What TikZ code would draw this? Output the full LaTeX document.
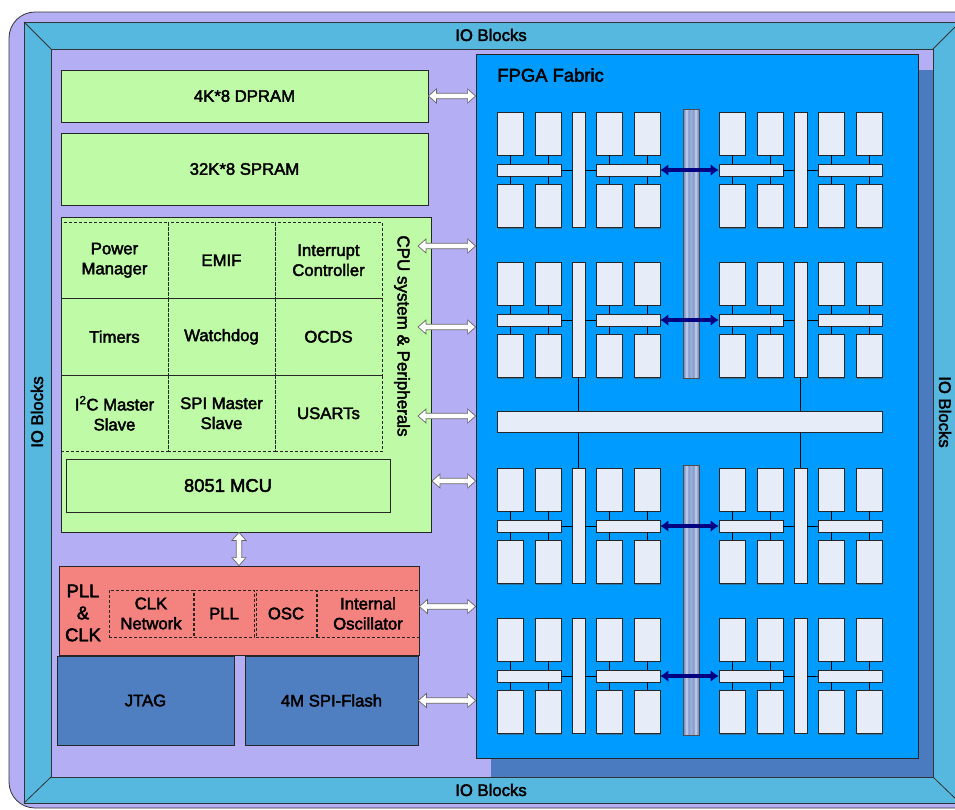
\documentclass[tikz,border=0pt]{standalone}
\usepackage{fontspec}
\setmainfont{Liberation Sans}[FakeBold=2.5]
\usetikzlibrary{positioning,calc,arrows.meta,shadows}
\definecolor{lila}{HTML}{B4AEF4}
\definecolor{ioazul}{HTML}{56B8DF}
\definecolor{verde}{HTML}{BFFBA6}
\definecolor{salmon}{HTML}{F4827E}
\definecolor{acero}{HTML}{4F7FC0}
\definecolor{fabric}{HTML}{009BFF}
\definecolor{sombra}{HTML}{4A7AC0}
\definecolor{celeste}{HTML}{E6EDF8}
\definecolor{marino}{HTML}{000080}
\definecolor{grisA}{HTML}{8299CC}
\definecolor{grisB}{HTML}{C8D4EC}
\pgfdeclarehorizontalshading{barra}{100bp}{color(0bp)=(grisA); color(25bp)=(grisA!85!black); color(29bp)=(grisA); color(36bp)=(grisB); color(42bp)=(grisA); color(50bp)=(grisA!60!grisB); color(58bp)=(grisA); color(64bp)=(grisB); color(71bp)=(grisA); color(75bp)=(grisA!85!black); color(100bp)=(grisA)}

% un grupo de bloques logicos: nombre, x, y
\newcommand{\grupoFPGA}[3]{%
  \begin{scope}[shift={(#2,#3)}]
    \foreach \i/\x in {1/13, 2/51, 3/112, 4/150}{
      \node[tile] (#1t\i) at (\x, 21.5) {};
      \node[tile] (#1b\i) at (\x, 94) {};
    }
    \node[hbarra] (#1hl) at (32, 58) {};
    \node[hbarra] (#1hr) at (131, 58) {};
    \node[vbarra] (#1v) at (81.5, 57.5) {};
    \foreach \i in {1,2}{
      \draw (#1t\i.south) -- (#1t\i.south |- #1hl.north);
      \draw (#1b\i.north) -- (#1b\i.north |- #1hl.south);
    }
    \foreach \i in {3,4}{
      \draw (#1t\i.south) -- (#1t\i.south |- #1hr.north);
      \draw (#1b\i.north) -- (#1b\i.north |- #1hr.south);
    }
    \draw (#1hl.east) -- (#1v.west |- #1hl.east);
    \draw (#1v.east |- #1hr.west) -- (#1hr.west);
  \end{scope}}

\begin{document}
\begin{tikzpicture}[x=1pt, y=-1pt, line width=0.8pt,
            font=\fontsize{16.7}{20}\selectfont,
            caja/.style ={draw=black!85, fill=verde, inner sep=0pt, align=center},
            celda/.style ={draw=black!85, dash pattern=on 3pt off 2pt, inner sep=0pt,
            minimum width=107pt, minimum height=76.5pt, align=center},
            reloj/.style ={celda, minimum height=47pt},
            azul/.style ={draw=black!85, fill=acero, inner sep=0pt},
            grande/.style ={font=\fontsize{18.4}{22}\selectfont},
            tile/.style ={draw=black!85, fill=celeste, line width=0.7pt, inner sep=0pt,
            minimum width=26pt, minimum height=43pt,
            drop shadow={shadow xshift=1pt, shadow yshift=-1pt, fill=black!70, opacity=0.5}},
            hbarra/.style ={tile, minimum width=64pt, minimum height=12pt},
            vbarra/.style ={tile, minimum width=13pt, minimum height=115pt},
            flecha/.style ={fill=white, draw=black!60, line width=0.7pt, to path={
              -- ($(\tikztostart)!8pt!(\tikztotarget)!7pt!90:(\tikztotarget)$)
              -- ($(\tikztostart)!8pt!(\tikztotarget)!2.8pt!90:(\tikztotarget)$)
              -- ($(\tikztotarget)!8pt!(\tikztostart)!2.8pt!-90:(\tikztostart)$)
              -- ($(\tikztotarget)!8pt!(\tikztostart)!7pt!-90:(\tikztostart)$)
              -- (\tikztotarget)
              -- ($(\tikztotarget)!8pt!(\tikztostart)!7pt!90:(\tikztostart)$)
              -- ($(\tikztotarget)!8pt!(\tikztostart)!2.8pt!90:(\tikztostart)$)
              -- ($(\tikztostart)!8pt!(\tikztotarget)!2.8pt!-90:(\tikztotarget)$)
              -- ($(\tikztostart)!8pt!(\tikztotarget)!7pt!-90:(\tikztotarget)$)
              -- cycle}}]

        \useasboundingbox (0,0) rectangle (955,809);

        %%--------------------------marco y bloques IO--------------------------
        \filldraw[fill=lila, draw=black!80, rounded corners=26pt] (9,12) rectangle (990,808);
        \filldraw[fill=ioazul, draw=black!80] (24,22) rectangle (960,803);
        \filldraw[fill=lila, draw=black!80] (51,49) rectangle (933,777);
        \draw[black!80] (24,22) -- (51,49) (960,22) -- (933,49)
              (24,803) -- (51,777) (960,803) -- (933,777);

        \node (IOt) at (491,35) {IO Blocks};
        \node (IOb) at (491,790) {IO Blocks};
        \node[rotate=90] (IOl) at (37,412) {IO Blocks};
        \node[rotate=-90] (IOr) at (945,412) {IO Blocks};

        %%--------------------------FPGA fabric--------------------------
        \fill[sombra] (491,70) rectangle (933,777);
        \node[draw=black!85, fill=fabric, inner sep=0pt, minimum width=442pt, minimum height=704pt] (F) at (697,406) {};
        \node[grande, inner sep=0pt, anchor=west] (FT) at (497,75) {FPGA Fabric};

        \node[draw=black!70, shading=barra, inner sep=0pt, minimum width=16pt, minimum height=269pt] (GB1) at (691,243.5) {};
        \node[draw=black!70, shading=barra, inner sep=0pt, minimum width=16pt, minimum height=270pt] (GB2) at (691,600) {};

        \grupoFPGA{G1}{497}{112}
        \grupoFPGA{G2}{719}{112}
        \grupoFPGA{G3}{497}{262}
        \grupoFPGA{G4}{719}{262}
        \grupoFPGA{G5}{497}{468}
        \grupoFPGA{G6}{719}{468}
        \grupoFPGA{G7}{497}{618}
        \grupoFPGA{G8}{719}{618}

        \node[tile, minimum width=385pt, minimum height=21pt] (WB) at (689.5,421.5) {};
        \draw (G3v.south) -- (G3v.south |- WB.north);
        \draw (G4v.south) -- (G4v.south |- WB.north);
        \draw (G5v.north) -- (G5v.north |- WB.south);
        \draw (G6v.north) -- (G6v.north |- WB.south);

        \foreach \a/\b in {G1/G2, G3/G4, G5/G6, G7/G8}
            \draw[marino, line width=3.5pt, {Latex[length=8pt,width=12pt]}-{Latex[length=8pt,width=12pt]}] (\a hr.east) -- (\b hl.west);

        %%--------------------------memorias y CPU--------------------------
        \node[caja, minimum width=367pt, minimum height=52pt] (DPRAM) at (244.5,96) {4K*8 DPRAM};
        \node[caja, minimum width=367pt, minimum height=72pt] (SPRAM) at (244.5,169) {32K*8 SPRAM};
        \node[caja, minimum width=370pt, minimum height=315pt] (CPU) at (246,374.5) {};

        \node[celda] (PM) at (114.5,260.25) {Power\\Manager};
        \node[celda] (EMIF) at (221.5,260.25) {EMIF};
        \node[celda] (IC) at (328.5,260.25) {Interrupt\\Controller};
        \node[celda] (TIM) at (114.5,336.75) {Timers};
        \node[celda] (WD) at (221.5,336.75) {Watchdog};
        \node[celda] (OCDS) at (328.5,336.75) {OCDS};
        \node[celda] (I2C) at (114.5,413.25) {I\textsuperscript{2}C Master\\Slave};
        \node[celda] (SPI) at (221.5,413.25) {SPI Master\\Slave};
        \node[celda] (USART) at (328.5,413.25) {USARTs};

        \node[caja, grande, minimum width=324pt, minimum height=53pt] (MCU) at (228,485.5) {8051 MCU};
        \node[rotate=-90, font=\fontsize{17}{20}\selectfont] (CPUt) at (402,336) {CPU system \& Peripherals};

        %%--------------------------PLL, JTAG y flash--------------------------
        \node[draw=black!85, fill=salmon, inner sep=0pt, minimum width=360pt, minimum height=89pt] (PLL) at (239,610.5) {};
        \node[grande, align=center, inner sep=0pt] (PLLt) at (83,613) {PLL\\\&\\CLK};
        \node[reloj, minimum width=84pt] (CLKN) at (151,613.5) {CLK\\Network};
        \node[reloj, minimum width=60pt] (PLLi) at (224,613.5) {PLL};
        \node[reloj, minimum width=60pt] (OSC) at (286,613.5) {OSC};
        \node[reloj, minimum width=102pt] (INTO) at (368,613.5) {Internal\\Oscillator};

        \node[azul, minimum width=177pt, minimum height=89pt] (JTAG) at (145.5,700.5) {JTAG};
        \node[azul, minimum width=173pt, minimum height=89pt] (FLASH) at (331.5,700.5) {4M SPI-Flash};

        %%--------------------------flechas---------------------------
        \coordinate (c1) at (418,246);
        \coordinate (c2) at (418,327);
        \coordinate (c3) at (418,416);
        \coordinate (c4) at (432,481);
        \coordinate (c5) at ([yshift=4pt]PLL.east);

        \draw[flecha] (DPRAM.east) to (F.west |- DPRAM.east);
        \foreach \c in {c1,c2,c3,c4,c5}
            \draw[flecha] (\c) to (F.west |- \c);
        \draw[flecha] (FLASH.east) to (F.west |- FLASH.east);
        \draw[flecha] (PLL.north |- CPU.south) to (PLL.north);

    \end{tikzpicture}
\end{document}
